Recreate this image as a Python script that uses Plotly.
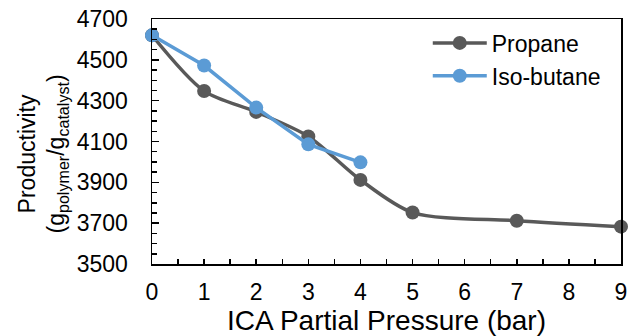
import plotly.graph_objects as go

propane_x = [0, 1, 2, 3, 4, 5, 7, 9]
propane_y = [4620, 4347, 4245, 4125, 3912, 3752, 3712, 3683]
isobutane_x = [0, 1, 2, 3, 4]
isobutane_y = [4620, 4472, 4266, 4086, 3998]
x_ticks = [0, 1, 2, 3, 4, 5, 6, 7, 8, 9]
y_ticks = [3500, 3700, 3900, 4100, 4300, 4500, 4700]

FONT = "Liberation Sans, Arial, sans-serif"
GRAY = "#595959"
BLUE = "#5B9BD5"

fig = go.Figure()
fig.add_trace(go.Scatter(
    x=propane_x, y=propane_y, name="Propane", mode="lines+markers",
    line=dict(color=GRAY, width=3.5, shape="spline", smoothing=0.8),
    marker=dict(color=GRAY, size=14), cliponaxis=False, legendgroup="a"))
fig.add_trace(go.Scatter(
    x=isobutane_x, y=isobutane_y, name="Iso-butane", mode="lines+markers",
    line=dict(color=BLUE, width=3.5),
    marker=dict(color=BLUE, size=14), cliponaxis=False, legendgroup="b"))

fig.update_layout(
    width=636, height=336,
    margin=dict(l=152, r=15, t=19, b=72, autoexpand=False),
    paper_bgcolor="white", plot_bgcolor="white",
    font=dict(family=FONT, size=23, color="black"),
    showlegend=True,
    legend=dict(x=0.588, y=0.99, xanchor="left", yanchor="top",
                bgcolor="rgba(0,0,0,0)", font=dict(size=23),
                tracegroupgap=0, itemwidth=54),
    xaxis=dict(range=[0, 9], tickvals=x_ticks, ticktext=[str(v) for v in x_ticks],
               showline=True, linecolor="black", linewidth=1.5, mirror=True,
               ticks="inside", ticklen=5, tickwidth=1.5, tickcolor="black",
               minor=dict(dtick=0.5, tick0=0, ticks="inside", ticklen=5, tickwidth=1.5, tickcolor="black"),
               showgrid=False, zeroline=False, ticklabelstandoff=7, automargin=False,
               title=dict(text="ICA Partial Pressure (bar)", standoff=5)),
    yaxis=dict(range=[3500, 4700], tickvals=y_ticks, ticktext=[str(v) for v in y_ticks],
               showline=True, linecolor="black", linewidth=1.5, mirror=True,
               ticks="inside", ticklen=7, tickwidth=1.5, tickcolor="black",
               minor=dict(dtick=50, tick0=3500, ticks="inside", ticklen=5, tickwidth=1.5, tickcolor="black"),
               showgrid=False, zeroline=False, ticklabelstandoff=18, automargin=False),
)

fig.add_annotation(
    xref="paper", yref="paper", x=0, y=0.5, xanchor="center", yanchor="middle",
    xshift=-109, yshift=-13, textangle=-90, showarrow=False,
    text="Productivity<br>(g<sub>polymer</sub>/g<sub>catalyst</sub>)",
    font=dict(family=FONT, size=23, color="black"))

fig.write_html("out.html", config={"displayModeBar": False, "staticPlot": True},
               post_script="document.body.style.margin='0';document.body.style.overflow='hidden';")
